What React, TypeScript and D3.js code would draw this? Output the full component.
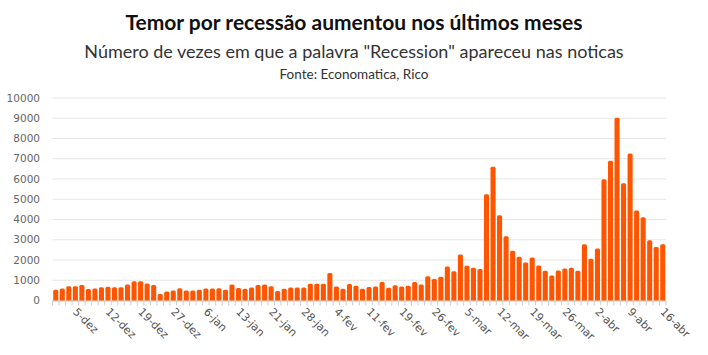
import React from "react";
import * as d3 from "d3";

const values: number[] = [
  530, 595, 700, 700, 770, 570, 595, 650, 685, 650,
  650, 790, 950, 950, 840, 765, 315, 445, 495, 610,
  495, 495, 530, 590, 590, 610, 530, 790, 615, 580,
  644, 765, 792, 700, 470, 578, 644, 644, 644, 825,
  825, 825, 1353, 693, 578, 815, 726, 585, 665, 693,
  908, 635, 759, 693, 726, 908, 792, 1195, 1056, 1172,
  1675, 1444, 2277, 1710, 1617, 1560, 5248, 6601, 4208, 3168,
  2459, 2162, 1881, 2120, 1733, 1469, 1238, 1485, 1584, 1617,
  1469, 2772, 2063, 2574, 5990, 6898, 9026, 5792, 7261, 4439,
  4109, 2970, 2640, 2772,
];

const tickLabels: string[] = [
  "5-dez", "12-dez", "19-dez", "27-dez", "6-jan", "13-jan", "21-jan", "28-jan",
  "4-fev", "11-fev", "19-fev", "26-fev", "5-mar", "12-mar", "19-mar", "26-mar",
  "2-abr", "9-abr", "16-abr",
];
const firstLabelIndex = 3;
const labelEvery = 5;

const yTicks: number[] = [0, 1000, 2000, 3000, 4000, 5000, 6000, 7000, 8000, 9000, 10000];

const title = "Temor por recessão aumentou nos últimos meses";
const subtitle = 'Número de vezes em que a palavra "Recession" apareceu nas noticas';
const source = "Fonte: Economatica, Rico";

const W = 708;
const H = 355;
const left = 52.5;
const right = 666;
const top = 98;
const bottom = 300.5;

export default function App() {
  const idx = values.map((_, i) => i);
  const x = d3.scaleBand<number>().domain(idx).range([left, right]).paddingInner(0.22).paddingOuter(0.11);
  const y = d3.scaleLinear().domain([0, 10000]).range([bottom, top]);
  const bw = x.bandwidth();
  const r = 1.5;

  const barPath = (i: number, v: number) => {
    const x0 = x(i)!;
    const y0 = y(v);
    const p = d3.path();
    p.moveTo(x0, bottom);
    p.lineTo(x0, y0 + r);
    p.quadraticCurveTo(x0, y0, x0 + r, y0);
    p.lineTo(x0 + bw - r, y0);
    p.quadraticCurveTo(x0 + bw, y0, x0 + bw, y0 + r);
    p.lineTo(x0 + bw, bottom);
    p.closePath();
    return p.toString();
  };

  const step = x.step();
  const tickEdges = idx.map((i) => x(i)! + bw + (step - bw) / 2);
  tickEdges.unshift(left);

  return (
    <svg width={W} height={H} style={{ position: "absolute", left: 0, top: 0, background: "#fff" }}>
      <text x={W / 2} y={30} textAnchor="middle" fontFamily="Lato" fontWeight={700} fontSize={21} fill="#111">
        {title}
      </text>
      <text x={W / 2} y={58} textAnchor="middle" fontFamily="Lato" fontSize={18} fill="#333">
        {subtitle}
      </text>
      <text x={W / 2} y={79} textAnchor="middle" fontFamily="Lato" fontSize={13.5} fill="#333">
        {source}
      </text>
      {yTicks.map((t) => (
        <g key={t}>
          <line x1={left} x2={right} y1={y(t)} y2={y(t)} stroke="#e6e6e6" strokeWidth={1} />
          <text x={40} y={y(t)} dy="0.35em" textAnchor="end" fontFamily="DejaVu Sans" fontSize={10.5} fill="#666">
            {t}
          </text>
        </g>
      ))}
      <line x1={left} x2={right} y1={bottom + 0.5} y2={bottom + 0.5} stroke="#ccc" strokeWidth={1} />
      {tickEdges.map((tx, i) => (
        <line key={i} x1={tx} x2={tx} y1={bottom} y2={bottom + 5} stroke="#ccc" strokeWidth={1} />
      ))}
      {values.map((v, i) => (
        <path key={i} d={barPath(i, v)} fill="#ff5500" />
      ))}
      {tickLabels.map((lab, k) => {
        const i = firstLabelIndex + k * labelEvery;
        const cx = x(i)! + bw / 2;
        return (
          <text
            key={lab}
            transform={`translate(${cx - 3},${bottom + 12}) rotate(45)`}
            fontFamily="DejaVu Sans"
            fontSize={11}
            fill="#555"
          >
            {lab}
          </text>
        );
      })}
    </svg>
  );
}
